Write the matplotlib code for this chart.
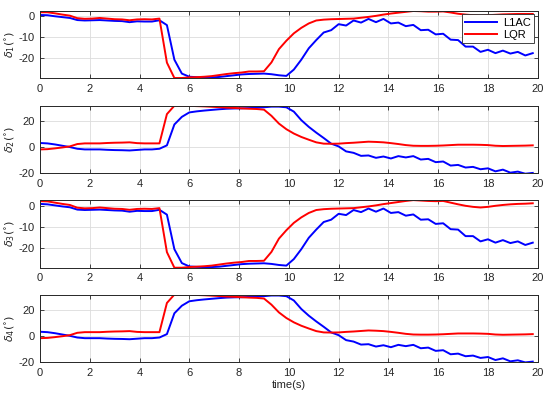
import numpy as np
import matplotlib
matplotlib.use("Agg")
from matplotlib import pyplot as plt

plt.rcParams['font.family'] = ['Liberation Sans', 'DejaVu Sans']
plt.rcParams['axes.unicode_minus'] = False

# sample times (s)
t = np.linspace(0, 19.8, 67)

# delta_1
l1ac_1 = [0.6, 0.5, 0.0, -0.4, -0.8, -1.8, -2.0, -1.9, -1.8, -2.0, -2.2, -2.3, -2.8, -2.4, -2.5, -2.5, -1.9,
          -4.2, -20.6, -27.2, -28.7, -28.9, -29.0, -29.0, -28.8, -28.4, -28.0, -27.6, -27.4, -27.3, -27.2, -27.5, -28.0, -28.3,
          -25.3, -20.6, -15.2, -11.3, -7.7, -6.6, -3.75, -4.4, -2.0, -3.0, -1.25, -2.8, -1.25, -3.4, -3.0, -4.7, -4.1,
          -6.6, -6.4, -8.6, -8.3, -11.1, -11.3, -14.4, -14.4, -16.9, -15.9, -17.5, -16.3, -17.7, -16.9, -18.6, -17.5]
lqr_1 = [1.9, 1.9, 1.4, 0.8, 0.3, -0.9, -1.2, -1.1, -0.8, -1.1, -1.4, -1.5, -1.9, -1.5, -1.4, -1.5, -1.1,
         -22.0, -29.3, -29.3, -29.0, -28.9, -28.7, -28.4, -27.9, -27.4, -27.0, -26.7, -26.2, -26.2, -26.1, -21.9, -15.6, -11.6,
         -8.1, -5.5, -3.4, -2.0, -1.6, -1.4, -1.3, -1.2, -1.1, -0.7, -0.3, 0.2, 0.8, 1.3, 1.7, 2.1, 2.5,
         2.4, 2.2, 2.2, 2.3, 1.8, 1.2, 0.8, 0.5, 0.3, 0.5, 0.7, 0.9, 1.0, 1.1, 1.1, 1.1]

# delta_2
l1ac_2 = [3.1, 2.8, 2.0, 1.0, 0.0, -1.3, -1.8, -1.8, -1.8, -2.1, -2.3, -2.4, -2.6, -2.2, -1.8, -1.8, -1.3,
          1.3, 17.2, 23.0, 26.4, 27.2, 27.8, 28.3, 28.8, 29.2, 29.4, 29.5, 29.7, 30.0, 30.3, 30.8, 30.8, 30.3,
          27.0, 20.5, 15.4, 11.0, 6.9, 2.6, 0.5, -3.3, -4.4, -6.7, -6.4, -8.2, -7.2, -8.7, -6.9, -7.9, -6.9,
          -9.5, -9.0, -11.5, -11.0, -14.1, -13.6, -15.6, -15.1, -16.9, -16.2, -18.5, -17.2, -19.5, -18.7, -20.3, -19.7]
lqr_2 = [-1.8, -1.6, -1.0, -0.3, 0.5, 2.3, 2.8, 2.8, 2.8, 3.1, 3.3, 3.4, 3.6, 3.0, 2.8, 2.8, 2.8,
         25.1, 31.5, 31.5, 31.4, 31.2, 31.0, 30.7, 30.4, 30.0, 29.8, 29.5, 29.2, 29.0, 28.5, 23.8, 17.9, 13.6,
         10.3, 7.7, 5.6, 3.6, 2.6, 2.5, 2.6, 3.0, 3.3, 3.7, 4.1, 3.9, 3.6, 3.0, 2.3, 1.5, 1.0,
         0.9, 0.9, 1.0, 1.2, 1.5, 1.8, 1.8, 1.8, 1.7, 1.5, 1.0, 0.8, 0.9, 1.0, 1.1, 1.3]

# delta_3
l1ac_3 = [0.9, 0.7, 0.2, -0.3, -0.7, -1.8, -2.0, -1.9, -1.8, -2.0, -2.2, -2.3, -2.8, -2.4, -2.5, -2.5, -1.9,
          -4.2, -20.6, -27.2, -28.8, -29.0, -29.1, -29.1, -28.9, -28.5, -28.1, -27.7, -27.5, -27.4, -27.3, -27.6, -28.1, -28.4,
          -25.3, -20.6, -15.2, -11.3, -7.7, -6.6, -3.8, -4.4, -2.0, -3.0, -1.3, -2.8, -1.3, -3.4, -3.0, -4.7, -4.1,
          -6.6, -6.4, -8.6, -8.3, -11.1, -11.3, -14.4, -14.4, -16.9, -15.9, -17.5, -16.3, -17.7, -16.9, -18.6, -17.5]
lqr_3 = [2.2, 2.1, 1.5, 0.9, 0.4, -0.9, -1.2, -1.1, -0.8, -1.1, -1.4, -1.5, -1.9, -1.5, -1.4, -1.5, -1.1,
         -22.0, -29.4, -29.4, -29.1, -28.9, -28.7, -28.4, -27.9, -27.4, -27.0, -26.7, -26.2, -26.2, -26.1, -21.9, -15.6, -11.6,
         -8.1, -5.5, -3.4, -2.0, -1.6, -1.4, -1.3, -1.2, -1.1, -0.7, -0.3, 0.2, 0.8, 1.3, 1.8, 2.3, 2.7,
         2.5, 2.3, 2.2, 2.3, 1.5, 0.7, 0.0, -0.5, -0.8, -0.5, 0.0, 0.4, 0.7, 0.9, 1.0, 1.2]

# delta_4
l1ac_4 = list(l1ac_2)
lqr_4 = list(lqr_2)

series = [(l1ac_1, lqr_1), (l1ac_2, lqr_2), (l1ac_3, lqr_3), (l1ac_4, lqr_4)]
ylabels = [r'$\delta_1(^{\circ})$', r'$\delta_2(^{\circ})$', r'$\delta_3(^{\circ})$', r'$\delta_4(^{\circ})$']
ylims = [(-29.3, 2.5), (-20, 31.5), (-29.4, 2.7), (-20, 31.5)]
yticks = [[-20, -10, 0], [-20, 0, 20], [-20, -10, 0], [-20, 0, 20]]

# axes boxes in figure fraction (left, bottom, width, height)
boxes = [(0.0727, 0.8015, 0.905, 0.1705),
         (0.0727, 0.559, 0.905, 0.172),
         (0.0727, 0.3188, 0.905, 0.172),
         (0.0727, 0.0789, 0.905, 0.1715)]

dark = (0.15, 0.15, 0.15)
fig = plt.figure(figsize=(5.5, 3.93), dpi=100)

for i in range(4):
    ax = fig.add_axes(boxes[i])
    b, r = series[i]
    ax.plot(t, b, color=(0, 0, 1), lw=1.4, label='L1AC')
    ax.plot(t, r, color=(1, 0, 0), lw=1.4, label='LQR')
    ax.set_xlim(0, 20)
    ax.set_ylim(*ylims[i])
    ax.set_xticks(range(0, 21, 2))
    ax.set_yticks(yticks[i])
    ax.grid(True, color='#dcdcdc', lw=0.6)
    ax.set_axisbelow(True)
    ax.tick_params(direction='in', top=True, right=True, length=3, width=0.6,
                   labelsize=8, colors=dark, pad=4)
    for s in ax.spines.values():
        s.set_color(dark)
        s.set_linewidth(0.7)
    ax.set_ylabel(ylabels[i], fontsize=8, color=dark, labelpad=1)
    if i == 0:
        leg = ax.legend(loc='upper right', fontsize=8, fancybox=False, framealpha=1,
                        edgecolor=dark, handlelength=2.8, borderaxespad=0.3,
                        borderpad=0.3, labelspacing=0.2, handletextpad=0.6)
        leg.get_frame().set_linewidth(0.6)
    if i == 3:
        ax.set_xlabel('time(s)', fontsize=8, color=dark, labelpad=2)

fig.savefig('out.png', dpi=100)
